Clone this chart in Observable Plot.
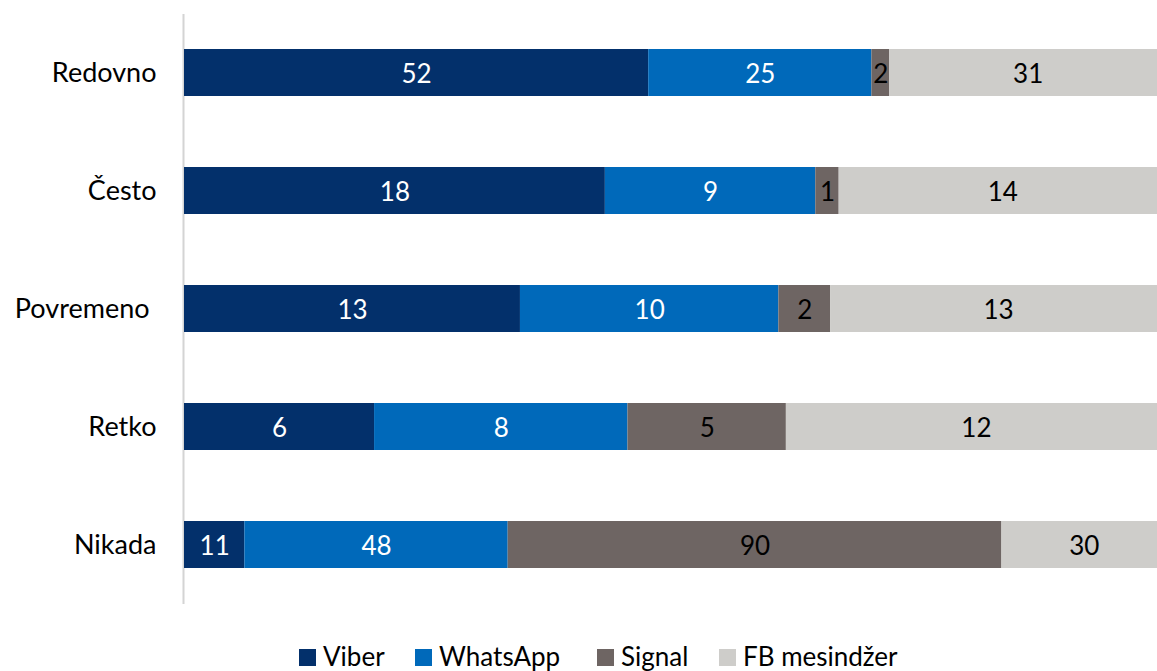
<!DOCTYPE html>
<html>
<head>
<meta charset="utf-8">
<script src="https://cdn.jsdelivr.net/npm/d3@7"></script>
<script src="https://cdn.jsdelivr.net/npm/@observablehq/plot@0.6"></script>
<style>
  body { margin: 0; background: #fff; font-family: Lato, "Open Sans", sans-serif; }
  #wrap { position: relative; width: 1157px; height: 671px; overflow: hidden; }
  #legend { position: absolute; left: 0; top: 643px; width: 1157px; height: 26px; font-size: 26px; line-height: 26px; color: #000; white-space: nowrap; }
  #legend .item { position: absolute; top: 0; }
  #legend .sw { display: inline-block; width: 17px; height: 17px; margin-right: 7px; vertical-align: baseline; }
</style>
</head>
<body>
<div id="wrap"><div id="chart"></div><div id="legend"></div></div>
<script>
const categories = ["Redovno", "Često", "Povremeno", "Retko", "Nikada"];
const series = ["Viber", "WhatsApp", "Signal", "FB mesindžer"];
const viber = [52, 18, 13, 6, 11];
const whatsapp = [25, 9, 10, 8, 48];
const signal = [2, 1, 2, 5, 90];
const fbMessenger = [31, 14, 13, 12, 30];
const colors = ["#03306b", "#0069ba", "#6e6563", "#cecdca"];
const textColors = ["#ffffff", "#ffffff", "#000000", "#000000"];

const valuesBySeries = [viber, whatsapp, signal, fbMessenger];
const data = [];
series.forEach((s, si) => {
  categories.forEach((c, ci) => {
    data.push({cat: c, series: s, value: valuesBySeries[si][ci], tc: textColors[si]});
  });
});

const stackOpts = {x: "value", y: "cat", z: "series", offset: "normalize", order: series};

const chart = Plot.plot({
  width: 1157,
  height: 620,
  marginTop: 14,
  marginBottom: 16,
  marginLeft: 0,
  marginRight: 0,
  style: {fontFamily: "Lato, 'Open Sans', sans-serif", fontSize: "26px", color: "#000", background: "#fff"},
  x: {domain: [0, 1], range: [184, 1166], axis: null},
  y: {domain: categories, range: [14, 604], paddingInner: 0.6, paddingOuter: 0.3, axis: null},
  color: {domain: series, range: colors},
  marks: [
    Plot.ruleX([0], {stroke: "#d4d4d4", strokeWidth: 2, dx: -1}),
    Plot.barX(data, Plot.stackX({...stackOpts, fill: "series"})),
    Plot.text(data, Plot.stackX({...stackOpts, text: d => String(d.value), fill: "tc", fontSize: 26, dy: 2})),
    Plot.axisY({anchor: "left", tickSize: 0, tickPadding: 0, dx: 156, fontSize: 27, textAnchor: "end", label: null,
      tickFormat: d => d === "Povremeno" ? d + "\u00a0" : d})
  ]
});
document.getElementById("chart").appendChild(chart);

const legendLeft = [299, 415, 597, 719];
const legend = document.getElementById("legend");
series.forEach((s, i) => {
  const item = document.createElement("div");
  item.className = "item";
  item.style.left = legendLeft[i] + "px";
  const sw = document.createElement("span");
  sw.className = "sw";
  sw.style.background = colors[i];
  const t = document.createElement("span");
  t.textContent = s;
  item.appendChild(sw);
  item.appendChild(t);
  legend.appendChild(item);
});
</script>
</body>
</html>
